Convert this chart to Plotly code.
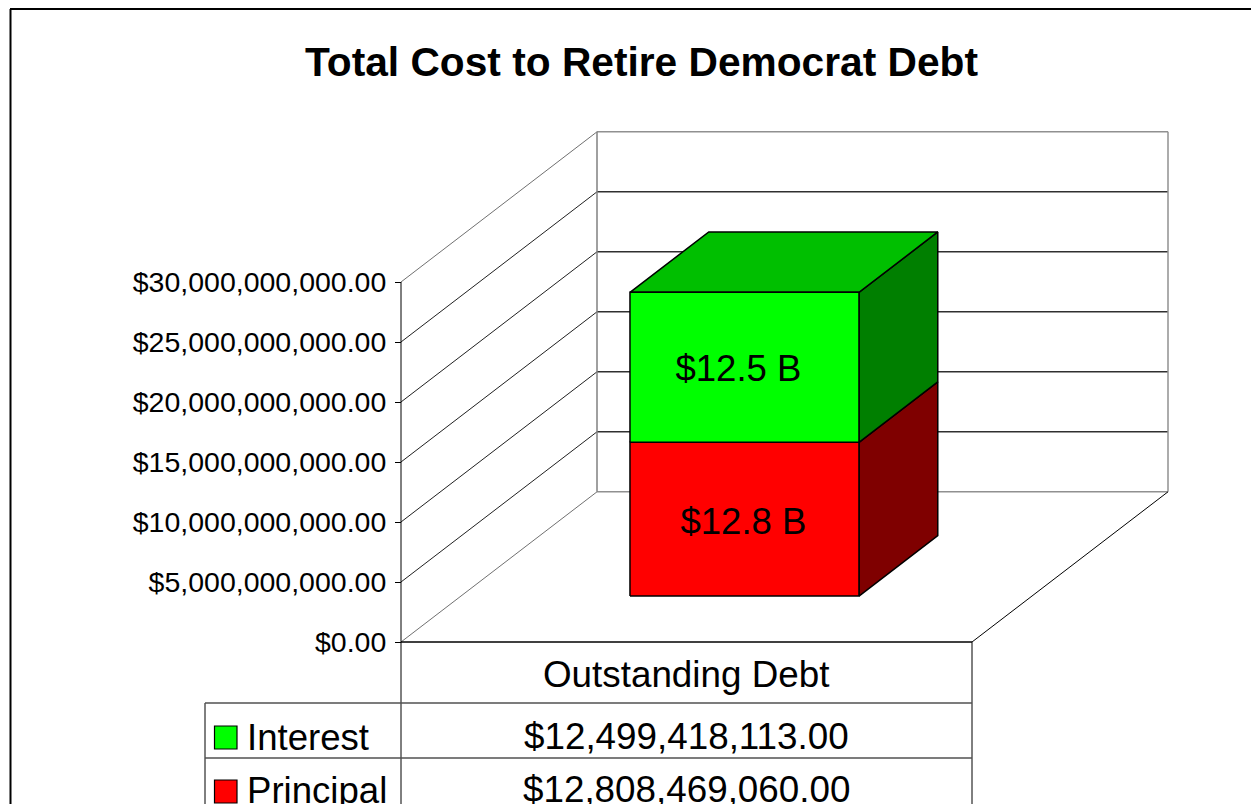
import plotly.graph_objects as go

# ---- data ----
title_text = "Total Cost to Retire Democrat Debt"
category = "Outstanding Debt"
series_names = ["Principal", "Interest"]
series_values = [12808469060.0, 12499418113.0]
tick_values = [0, 5e9, 10e9, 15e9, 20e9, 25e9, 30e9]

front_colors = ["#FF0000", "#00FF00"]
side_colors = ["#7F0000", "#007F00"]
top_colors = ["#7F0000", "#00BF00"]

# ---- layout geometry (pixels) ----
W, H = 1251, 804
Y0_PX, Y30_PX = 642.0, 282.0
PX_PER_USD = (Y0_PX - Y30_PX) / 30e9
Y_MIN = -(H - Y0_PX) / PX_PER_USD
Y_MAX = Y0_PX / PX_PER_USD
LEFT, RIGHT = 401.0, 972.0
DEPTH_X, DEPTH_USD = 196.0, 150.2 / PX_PER_USD
BAR_L, BAR_R = 570.0, 799.0
BAR_D0, BAR_D1 = 0.306, 0.708  # share of depth the bar takes
LABEL_DX = [-1.0, -6.0]
LABEL_DY = [-6.0, -5.0]
FONT = "Liberation Sans"
FS = 37.0


def px(x, v, depth=0.0):
    """oblique projection: plan x, value, depth share -> axis coordinates"""
    return x + depth * DEPTH_X, v + depth * DEPTH_USD


def yp(y):
    return 1 - y / H


fig = go.Figure()


def poly(points, fill):
    xs = [p[0] for p in points] + [points[0][0]]
    ys = [p[1] for p in points] + [points[0][1]]
    fig.add_trace(go.Scatter(x=xs, y=ys, mode="lines", fill="toself", fillcolor=fill,
                             line=dict(color="#000000", width=1.5), hoverinfo="skip",
                             showlegend=False, cliponaxis=False))


def seg(a, b, color="#000000", width=1.0):
    fig.add_trace(go.Scatter(x=[a[0], b[0]], y=[a[1], b[1]], mode="lines",
                             line=dict(color=color, width=width), hoverinfo="skip",
                             showlegend=False, cliponaxis=False))


# walls and gridlines
for t in tick_values:
    edge = t in (0, tick_values[-1])
    seg(px(LEFT, t), px(LEFT, t, 1), "#707070" if edge else "#202020", 1.0)
    seg(px(LEFT, t, 1), px(RIGHT, t, 1), ("#909090" if edge else "#303030"), 1.5)
seg(px(LEFT, 0, 1), px(LEFT, tick_values[-1], 1), "#808080", 1.5)
seg(px(RIGHT, 0, 1), px(RIGHT, tick_values[-1], 1), "#909090", 1.5)
seg(px(RIGHT, 0), px(RIGHT, 0, 1), "#000000", 1.0)
seg(px(LEFT, 0), px(LEFT, tick_values[-1]), "#000000", 1.0)

# stacked 3-D bar
base = 0.0
for i, (name, v) in enumerate(zip(series_names, series_values)):
    top = base + v
    poly([px(BAR_R, base, BAR_D0), px(BAR_R, base, BAR_D1), px(BAR_R, top, BAR_D1), px(BAR_R, top, BAR_D0)], side_colors[i])
    if i == len(series_values) - 1:
        poly([px(BAR_L, top, BAR_D0), px(BAR_R, top, BAR_D0), px(BAR_R, top, BAR_D1), px(BAR_L, top, BAR_D1)], top_colors[i])
    poly([px(BAR_L, base, BAR_D0), px(BAR_R, base, BAR_D0), px(BAR_R, top, BAR_D0), px(BAR_L, top, BAR_D0)], front_colors[i])
    cx, cy = px((BAR_L + BAR_R) / 2 + LABEL_DX[i], base + v / 2 + LABEL_DY[i] / PX_PER_USD, BAR_D0)
    fig.add_trace(go.Scatter(x=[cx], y=[cy], mode="text", text=[f"${v / 1e9:.1f} B"],
                             textfont=dict(family=FONT, size=36.6, color="#000000"),
                             textposition="middle center", hoverinfo="skip", showlegend=False, cliponaxis=False))
    base = top

# data table and frame
shapes = []


def line(x0, y0, x1, y1, color="#000000", width=1.0):
    shapes.append(dict(type="line", xref="x", yref="paper", x0=x0, x1=x1, y0=yp(y0), y1=yp(y1),
                       line=dict(color=color, width=width)))


line(10.5, 9, 10.5, H, width=2)
line(10, 9, W, 9, width=2)
line(LEFT, 642, RIGHT, 642, width=1.5)
line(LEFT, 642, LEFT, H)
line(RIGHT, 642, RIGHT, H)
line(205, 703, 205, H)
line(205, 703, RIGHT, 703, "#505050", 1.5)
line(205, 758, RIGHT, 758, "#505050", 1.5)

annotations = []


def label(x, y, text, anchor="center", size=FS, bold=False):
    annotations.append(dict(x=x, y=yp(y), xref="x", yref="paper", text=f"<b>{text}</b>" if bold else text,
                            showarrow=False, xanchor=anchor, yanchor="middle", borderpad=0,
                            font=dict(family=FONT, size=size, color="#000000")))


label(641.5, 62, title_text, size=40.7, bold=True)
label(686, 674, category, size=36.8)
row_y = {"Interest": (737, 726), "Principal": (790, 780)}
for i, (name, v) in enumerate(zip(series_names, series_values)):
    ty, by = row_y[name]
    label(686, ty - 1, f"${v:,.2f}", size=36.8)
    label(246, ty, name, anchor="left", size=36.6)
    shapes.append(dict(type="rect", xref="x", yref="paper", x0=214.5, x1=237, y0=yp(by), y1=yp(by + 23),
                       fillcolor=front_colors[i], line=dict(color="#000000", width=1.2)))

fig.update_layout(
    width=W, height=H, margin=dict(l=0, r=0, t=0, b=0), autosize=False,
    paper_bgcolor="#FFFFFF", plot_bgcolor="rgba(0,0,0,0)", showlegend=False,
    shapes=shapes, annotations=annotations,
    xaxis=dict(range=[0, W], visible=False, domain=[0, 1], fixedrange=True),
    yaxis=dict(range=[Y_MIN, Y_MAX], domain=[0, 1], anchor="free", position=LEFT / W, side="left",
               tickmode="array", tickvals=tick_values, tickformat="$,.2f",
               ticks="outside", ticklen=6, tickwidth=1, tickcolor="#000000", showgrid=False,
               zeroline=False, showline=False, ticklabelstandoff=3, fixedrange=True,
               tickfont=dict(family=FONT, size=28.5, color="#000000")),
)
fig.write_html("out.html", post_script="document.body.style.margin='0';", config=dict(displayModeBar=False))
